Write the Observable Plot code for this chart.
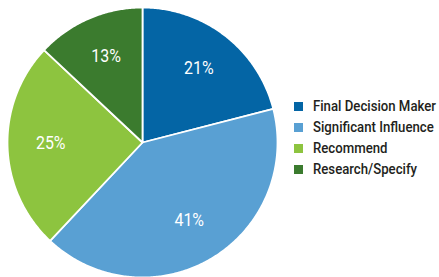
<!DOCTYPE html>
<html><head><meta charset="utf-8">
<script src="https://cdn.jsdelivr.net/npm/d3@7"></script>
<script src="https://cdn.jsdelivr.net/npm/@observablehq/plot@0.6"></script>
<style>
body{margin:0;background:#fff;}
#wrap{position:relative;width:439px;height:277px;overflow:hidden;background:#fff;}
#chart{position:absolute;left:0;top:0;}
#legend{position:absolute;left:294px;top:96px;width:200px;}
#legend .lg-swatch{height:21px !important;padding:0 !important;margin:0 !important;display:flex;align-items:center;white-space:nowrap;}
#legend .lg-swatch svg{margin-right:10px !important;flex:none;}
#legend .lbl{display:inline-block;transform-origin:left center;white-space:nowrap;}
</style></head><body><div id="wrap"><div id="chart"></div><div id="legend"></div></div>
<script>
const categories = ["Final Decision Maker","Significant Influence","Recommend","Research/Specify"];
const values = [21, 41, 25, 13];
const labels = ["21%", "41%", "25%", "13%"];
const colors = ["#0465a5", "#59a0d3", "#8dc43f", "#3b7b2e"];

const W = 439, H = 277, CX = 142, CY = 142, R = 135, LABEL_R = 0.68;
const FONT = 'Roboto, sans-serif';
const LEGEND_TARGET = 123;  // px width of the longest legend entry in the reference
const CONDENSE = 0.84;      // horizontal squeeze applied to slice labels

const arcs = d3.pie().sort(null).value((d, i) => values[i])(categories);
const pts = [];
const labelData = [];
arcs.forEach((a, i) => {
  const n = Math.max(2, Math.ceil((a.endAngle - a.startAngle) / 0.01));
  pts.push({cat: categories[i], x: 0, y: 0});
  for (let k = 0; k <= n; k++) {
    const t = a.startAngle + (a.endAngle - a.startAngle) * k / n;
    pts.push({cat: categories[i], x: Math.sin(t), y: Math.cos(t)});
  }
  pts.push({cat: categories[i], x: 0, y: 0});
  const m = (a.startAngle + a.endAngle) / 2;
  labelData.push({cat: categories[i], text: labels[i], x: LABEL_R * Math.sin(m), y: LABEL_R * Math.cos(m)});
});

const colorScale = {domain: categories, range: colors};

const chart = Plot.plot({
  width: W, height: H, margin: 0,
  style: {background: "transparent", overflow: "visible"},
  x: {domain: [-CX / R, (W - CX) / R], axis: null},
  y: {domain: [-(H - CY) / R, CY / R], axis: null},
  color: colorScale,
  marks: [
    Plot.line(pts, {x: "x", y: "y", z: "cat", fill: "cat", stroke: "white", strokeWidth: 1.8, strokeLinejoin: "round", curve: "linear"}),
    Plot.text(labelData, {x: "x", y: "y", text: "text", fill: "white", fontSize: 19, fontWeight: 400, fontFamily: FONT, dy: -2})
  ]
});
document.getElementById("chart").append(chart);
chart.querySelectorAll("text").forEach(t => {
  const len = t.getComputedTextLength();
  t.setAttribute("textLength", (len * CONDENSE).toFixed(2));
  t.setAttribute("lengthAdjust", "spacingAndGlyphs");
});

const legend = Plot.legend({
  color: {...colorScale, type: "categorical"},
  legend: "swatches",
  columns: 1,
  swatchSize: 9,
  className: "lg",
  style: {fontSize: "14.5px", fontWeight: 500, fontFamily: FONT, color: "#231f20", background: "transparent"}
});
const legendHost = document.getElementById("legend");
legendHost.append(legend);
const walker = document.createTreeWalker(legend, NodeFilter.SHOW_TEXT);
const textNodes = [];
while (walker.nextNode()) {
  const n = walker.currentNode;
  if (n.textContent.trim() && !n.parentNode.closest("svg") && !n.parentNode.closest("style")) textNodes.push(n);
}
const spans = textNodes.map(n => {
  const s = document.createElement("span");
  s.className = "lbl";
  s.textContent = n.textContent;
  n.parentNode.replaceChild(s, n);
  return s;
});
const maxW = d3.max(spans, s => s.getBoundingClientRect().width) || LEGEND_TARGET;
const k = LEGEND_TARGET / maxW;
spans.forEach(s => { s.style.transform = `scaleX(${k})`; });
</script></body></html>
